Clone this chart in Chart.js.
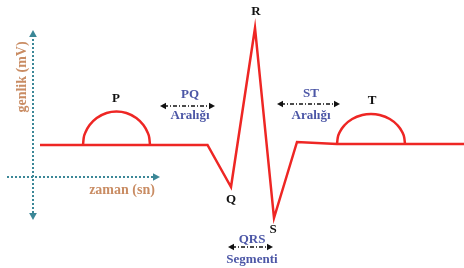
<!DOCTYPE html>
<html><head><meta charset="utf-8">
<script src="https://cdn.jsdelivr.net/npm/chart.js@4"></script>
<style>html,body{margin:0;padding:0;background:#fff}canvas{display:block}</style>
</head><body>
<canvas id="c" width="464" height="268"></canvas>
<script>
// time in ms, amplitude in mV (baseline = 0)
const mainTime = [0, 86, 220, 335, 382, 430, 468, 514, 594, 730, 848];
const mainAmp  = [0, 0, 0, 0, -0.42, 1.17, -0.73, 0.03, 0.01, 0.01, 0.01];
const pTime = [86, 87.4, 91.2, 99.2, 113.4, 133.2, 153, 172.8, 192.6, 206.8, 214.8, 218.6, 220];
const pAmp  = [0, 0.07, 0.13, 0.20, 0.27, 0.32, 0.335, 0.32, 0.27, 0.20, 0.13, 0.07, 0];
const tTime = [594, 595.4, 599.6, 609.4, 624.4, 644.6, 662, 679.4, 699.6, 714.6, 724.4, 728.6, 730];
const tAmp  = [0.01, 0.07, 0.13, 0.20, 0.26, 0.30, 0.31, 0.30, 0.26, 0.20, 0.13, 0.07, 0.01];
const waveLabels = ['P', 'Q', 'R', 'S', 'T'];
const intervalLabels = [['PQ', 'Aralığı'], ['ST', 'Aralığı'], ['QRS', 'Segmenti']];
const axisLabels = ['genlik (mV)', 'zaman (sn)'];

const toPts = (xs, ys) => xs.map((x, i) => ({x, y: ys[i]}));

// annotation anchors (data units)
const waveAnchors = {P:[152,0.46], Q:[382,-0.55], R:[432,1.33], S:[466,-0.85], T:[664,0.44]};
const intervals = [
  {title:[300,0.50], sub:[300,0.29], arrow:[240,350,0.39]},
  {title:[542,0.51], sub:[542,0.29], arrow:[474,600,0.41]},
  {title:[424,-0.95], sub:[424,-1.15], arrow:[376,466,-1.02]}
];

const RED = '#ee2624', TEAL = '#3b8797', TAN = '#c98c63', BLUE = '#4b56a6';

function arrowHead(ctx, x, y, dir, size, color) {
  ctx.save();
  ctx.fillStyle = color;
  ctx.translate(x, y); ctx.rotate(dir);
  ctx.beginPath();
  ctx.moveTo(0, 0); ctx.lineTo(-size, -size * 0.55); ctx.lineTo(-size, size * 0.55);
  ctx.closePath(); ctx.fill();
  ctx.restore();
}

const deco = {
  id: 'deco',
  beforeDatasetsDraw(chart) {
    const {ctx, scales:{x, y}} = chart;
    ctx.save();
    const ax = x.getPixelForValue(-14);
    const yTop = y.getPixelForValue(1.15), yBot = y.getPixelForValue(-0.75);
    const hy = y.getPixelForValue(-0.32);
    const xL = x.getPixelForValue(-66), xR = x.getPixelForValue(240);
    ctx.strokeStyle = TEAL; ctx.lineWidth = 2; ctx.setLineDash([2, 2]);
    ctx.beginPath(); ctx.moveTo(ax, yTop + 5); ctx.lineTo(ax, yBot - 5); ctx.stroke();
    ctx.beginPath(); ctx.moveTo(xL, hy); ctx.lineTo(xR - 5, hy); ctx.stroke();
    ctx.setLineDash([]);
    arrowHead(ctx, ax, yTop, -Math.PI / 2, 7, TEAL);
    arrowHead(ctx, ax, yBot, Math.PI / 2, 7, TEAL);
    arrowHead(ctx, xR, hy, 0, 7, TEAL);
    ctx.fillStyle = TAN;
    ctx.font = 'bold 14px "Liberation Serif"';
    ctx.textAlign = 'center'; ctx.textBaseline = 'middle';
    ctx.save();
    ctx.translate(x.getPixelForValue(-36), y.getPixelForValue(0.68));
    ctx.rotate(-Math.PI / 2);
    ctx.fillText(axisLabels[0], 0, 0);
    ctx.restore();
    ctx.fillText(axisLabels[1], x.getPixelForValue(164), y.getPixelForValue(-0.45));
    ctx.restore();
  },
  afterDatasetsDraw(chart) {
    const {ctx, scales:{x, y}} = chart;
    ctx.save();
    ctx.textAlign = 'center'; ctx.textBaseline = 'middle';
    ctx.fillStyle = '#111';
    ctx.font = 'bold 13px "Liberation Serif"';
    waveLabels.forEach(l => {
      const [t, a] = waveAnchors[l];
      ctx.fillText(l, x.getPixelForValue(t), y.getPixelForValue(a));
    });
    intervals.forEach((iv, i) => {
      ctx.fillStyle = BLUE;
      ctx.font = 'bold 13px "Liberation Serif"';
      ctx.fillText(intervalLabels[i][0], x.getPixelForValue(iv.title[0]), y.getPixelForValue(iv.title[1]));
      ctx.fillText(intervalLabels[i][1], x.getPixelForValue(iv.sub[0]), y.getPixelForValue(iv.sub[1]));
      const x1 = x.getPixelForValue(iv.arrow[0]), x2 = x.getPixelForValue(iv.arrow[1]);
      const ay = y.getPixelForValue(iv.arrow[2]);
      ctx.strokeStyle = '#111'; ctx.lineWidth = 1.3; ctx.setLineDash([4, 2, 1, 2]);
      ctx.beginPath(); ctx.moveTo(x1 + 4, ay); ctx.lineTo(x2 - 4, ay); ctx.stroke();
      ctx.setLineDash([]);
      arrowHead(ctx, x1, ay, Math.PI, 6, '#111');
      arrowHead(ctx, x2, ay, 0, 6, '#111');
    });
    ctx.restore();
  }
};

const lineStyle = {borderColor: RED, borderWidth: 2.5, pointRadius: 0, fill: false, showLine: true};
new Chart(document.getElementById('c'), {
  type: 'scatter',
  data: {datasets: [
    Object.assign({data: toPts(mainTime, mainAmp), tension: 0, borderJoinStyle: 'miter'}, lineStyle),
    Object.assign({data: toPts(pTime, pAmp), cubicInterpolationMode: 'monotone'}, lineStyle),
    Object.assign({data: toPts(tTime, tAmp), cubicInterpolationMode: 'monotone'}, lineStyle)
  ]},
  options: {
    responsive: false, animation: false, devicePixelRatio: 1,
    layout: {padding: 0},
    plugins: {legend: {display: false}, tooltip: {enabled: false}},
    scales: {
      x: {type: 'linear', min: -80, max: 848, display: false},
      y: {type: 'linear', min: -1.23, max: 1.45, display: false}
    }
  },
  plugins: [deco]
});
</script>
</body></html>
